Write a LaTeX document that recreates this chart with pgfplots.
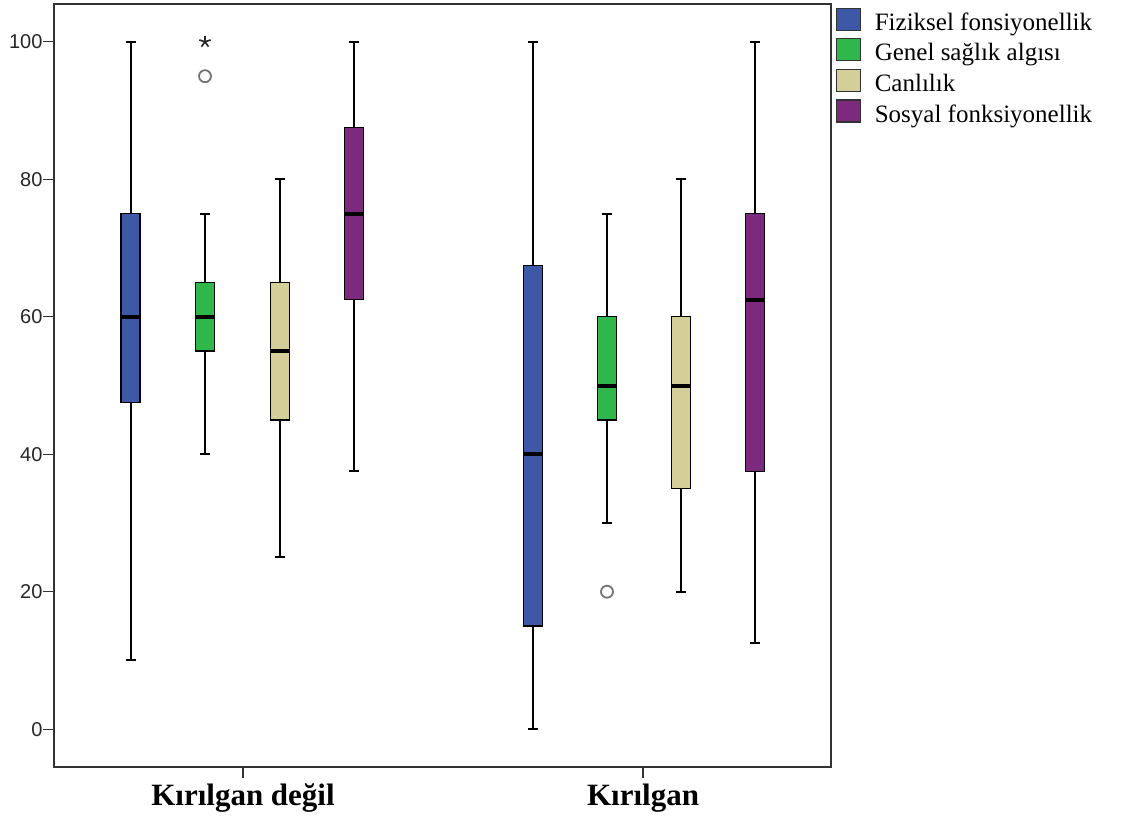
\documentclass[border=0pt]{standalone}
\usepackage{pgfplots}
\pgfplotsset{compat=1.18}
\usepgfplotslibrary{statistics}
\usepackage{fontspec}
\setmainfont{Liberation Serif}
\setsansfont{Liberation Sans}
\definecolor{cblue}{HTML}{3E58A8}
\definecolor{cgreen}{HTML}{2FB84A}
\definecolor{ctan}{HTML}{D4CF98}
\definecolor{cpurple}{HTML}{7D2A7E}
\begin{document}
\begin{tikzpicture}
\path[use as bounding box] (0,0) rectangle (1129pt,823pt);
\begin{axis}[
  at={(54pt,56pt)}, anchor=south west,
  scale only axis, width=777pt, height=763pt,
  xmin=54, xmax=831, ymin=-5.5, ymax=105.5,
  ytick={0,20,40,60,80,100},
  xtick={243,643},
  xticklabels={Kırılgan değil, Kırılgan},
  tick align=outside, tick pos=left,
  major tick length=11pt,
  tick style={black!80, line width=1.2pt},
  axis line style={black!80, line width=1.2pt},
  /pgf/number format/assume math mode=true,
  yticklabel style={font=\sffamily\fontsize{20}{23}\selectfont, text=black!85, xshift=3pt},
  xticklabel style={font=\bfseries\fontsize{31}{34}\selectfont, yshift=-2pt},
  boxplot/draw direction=y,
  boxplot/box extend=19,
  boxplot/whisker extend=10,
  boxplot/every box/.style={draw=black, line width=1.3pt},
  boxplot/every whisker/.style={black, line width=2pt},
  boxplot/every median/.style={black, line width=4pt},
  every axis plot/.append style={line width=2pt},
  legend style={at={(1,1)}, anchor=north west, xshift=2pt, yshift=-1.5pt, draw=none, fill=none,
    font=\fontsize{25}{27}\selectfont, row sep=2pt,
    nodes={inner sep=1pt, text height=17pt, text depth=5pt}},
  legend cell align=left,
]
% Group 1: Kırılgan değil
\addplot+[forget plot, solid, mark=none, fill=cblue, draw=black, boxplot prepared={draw position=130.5,
  lower whisker=10, lower quartile=47.5, median=60, upper quartile=75, upper whisker=100}]
  table[row sep=\\, y index=0] {x\\};
\addplot+[forget plot, solid, fill=cgreen, draw=black, mark=o, mark size=6pt, mark options={draw=black!55, fill=none, line width=1.8pt},
  boxplot prepared={draw position=205,
  lower whisker=40, lower quartile=55, median=60, upper quartile=65, upper whisker=75}]
  table[row sep=\\, y index=0] {x\\ 95\\};
\addplot+[forget plot, solid, mark=none, fill=ctan, draw=black, boxplot prepared={draw position=280,
  lower whisker=25, lower quartile=45, median=55, upper quartile=65, upper whisker=80}]
  table[row sep=\\, y index=0] {x\\};
\addplot+[forget plot, solid, mark=none, fill=cpurple, draw=black, boxplot prepared={draw position=354,
  lower whisker=37.5, lower quartile=62.5, median=75, upper quartile=87.5, upper whisker=100}]
  table[row sep=\\, y index=0] {x\\};
\addplot[forget plot, only marks, mark=star, mark size=6pt, mark options={draw=black!85, line width=1.7pt}]
  coordinates {(205,100)};
% Group 2: Kırılgan
\addplot+[forget plot, solid, mark=none, fill=cblue, draw=black, boxplot prepared={draw position=533,
  lower whisker=0, lower quartile=15, median=40, upper quartile=67.5, upper whisker=100}]
  table[row sep=\\, y index=0] {x\\};
\addplot+[forget plot, solid, fill=cgreen, draw=black, mark=o, mark size=6pt, mark options={draw=black!55, fill=none, line width=1.8pt},
  boxplot prepared={draw position=607,
  lower whisker=30, lower quartile=45, median=50, upper quartile=60, upper whisker=75}]
  table[row sep=\\, y index=0] {x\\ 20\\};
\addplot+[forget plot, solid, mark=none, fill=ctan, draw=black, boxplot prepared={draw position=681,
  lower whisker=20, lower quartile=35, median=50, upper quartile=60, upper whisker=80}]
  table[row sep=\\, y index=0] {x\\};
\addplot+[forget plot, solid, mark=none, fill=cpurple, draw=black, boxplot prepared={draw position=755,
  lower whisker=12.5, lower quartile=37.5, median=62.5, upper quartile=75, upper whisker=100}]
  table[row sep=\\, y index=0] {x\\};
% Legend
\pgfplotsset{legend image code/.code={\draw[#1, draw=black!80, line width=1.2pt] (0pt,-6pt) rectangle (24pt,16pt); \path[draw=none, fill=none] (0pt,0pt) -- (37pt,0pt);}}
\addlegendimage{fill=cblue}
\addlegendentry{Fiziksel fonsiyonellik}
\addlegendimage{fill=cgreen}
\addlegendentry{Genel sağlık algısı}
\addlegendimage{fill=ctan}
\addlegendentry{Canlılık}
\addlegendimage{fill=cpurple}
\addlegendentry{Sosyal fonksiyonellik}
\end{axis}
\end{tikzpicture}
\end{document}
